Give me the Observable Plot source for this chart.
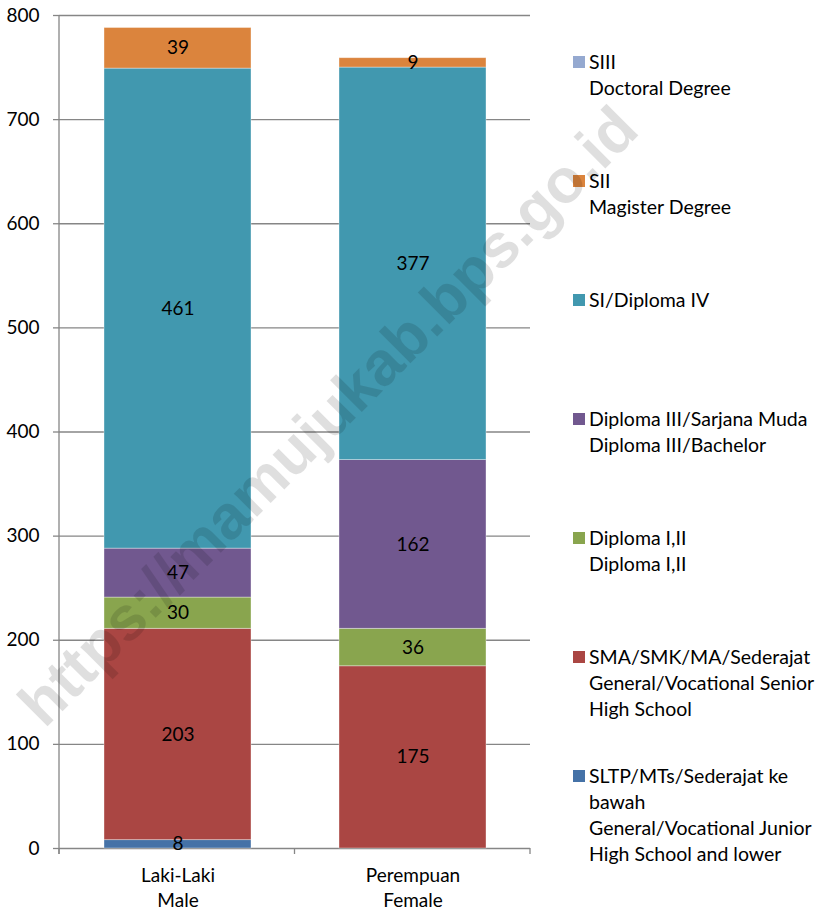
<!DOCTYPE html>
<html>
<head>
<meta charset="utf-8">
<script src="https://cdn.jsdelivr.net/npm/d3@7"></script>
<script src="https://cdn.jsdelivr.net/npm/@observablehq/plot@0.6"></script>
<style>
  html, body { margin: 0; padding: 0; background: #fff; }
  #wrap { position: relative; width: 823px; height: 912px; overflow: hidden; font-family: Lato, "Noto Sans", sans-serif; }
  #chart { position: absolute; left: 0; top: 0; }
  .leg { position: absolute; left: 589px; font-size: 19.5px; line-height: 26px; white-space: pre-line; color: #000; }
  .sw { position: absolute; left: 573px; width: 12px; height: 12px; }
  #wm { position: absolute; left: 328px; top: 416px; transform: translate(-50%, -50%) rotate(-45deg);
        font-family: "Liberation Sans", Arial, sans-serif; font-weight: 700; font-size: 62px; line-height: 1; white-space: nowrap;
        color: #000; opacity: 0.12; pointer-events: none; }
</style>
</head>
<body>
<div id="wrap">
  <div id="chart"></div>
  <div id="legend"></div>
  <div id="wm">https://mamujukab.bps.go.id</div>
</div>
<script>
// Categories (x axis)
const categories = ["Laki-Laki\nMale", "Perempuan\nFemale"];
// Series, bottom to top of the stack
const seriesKeys = ["SLTP", "SMA", "D12", "D3", "S1", "S2", "S3"];
const seriesLabels = [
  "SLTP/MTs/Sederajat ke\nbawah\nGeneral/Vocational Junior\nHigh School and lower",
  "SMA/SMK/MA/Sederajat\nGeneral/Vocational Senior\nHigh School",
  "Diploma I,II\nDiploma I,II",
  "Diploma III/Sarjana Muda\nDiploma III/Bachelor",
  "SI/Diploma IV",
  "SII\nMagister Degree",
  "SIII\nDoctoral Degree"
];
const seriesColors = ["#4572A7", "#AA4643", "#89A54E", "#71588F", "#4198AF", "#DB843D", "#95A9D0"];
// Values per series
const maleValues = [8, 203, 30, 47, 461, 39, 0];
const femaleValues = [0, 175, 36, 162, 377, 9, 0];
// Y ticks
const yTicks = [0, 100, 200, 300, 400, 500, 600, 700, 800];

const rows = [];
seriesKeys.forEach((s, i) => {
  rows.push({cat: categories[0], series: s, value: maleValues[i]});
  rows.push({cat: categories[1], series: s, value: femaleValues[i]});
});
const labelRows = rows.filter(d => d.value > 0);

const gray = "#868686";
const plot = Plot.plot({
  width: 545,
  height: 912,
  marginTop: 15,
  marginBottom: 64,
  marginLeft: 59,
  marginRight: 15,
  style: {fontFamily: "Lato, sans-serif", fontSize: "19px", color: "#000", background: "transparent", overflow: "visible"},
  x: {domain: categories, paddingInner: 0.376, paddingOuter: 0.188, label: null},
  y: {domain: [0, 800], label: null},
  color: {domain: seriesKeys, range: seriesColors},
  marks: [
    Plot.gridY(yTicks, {stroke: gray, strokeOpacity: 1, strokeWidth: 1.3}),
    Plot.axisY(yTicks, {tickSize: 6, tickPadding: 14, stroke: gray, strokeWidth: 1.3, label: null, fill: "#000"}),
    Plot.barY(rows, {x: "cat", y: "value", fill: "series", order: seriesKeys, stroke: "#fff", strokeOpacity: 0.45, strokeWidth: 0.8}),
    Plot.text(labelRows, Plot.stackY({x: "cat", y: "value", z: "series", order: seriesKeys, text: d => String(d.value), fill: "#000", fontSize: 19})),
    Plot.axisX({tickSize: 0, tickPadding: 16, lineHeight: 1.3, label: null, fill: "#000"})
  ]
});
document.getElementById("chart").appendChild(plot);

// Category boundary ticks and vertical axis line (Excel-style), from Plot's scales
const xs = plot.scale("x"), ys = plot.scale("y");
const [r0, r1] = xs.range;
const step = (r1 - r0) / categories.length;
const yBottom = ys.range[0], yTop = ys.range[1];
const g = d3.select(plot).append("g").attr("stroke", gray).attr("stroke-width", 1.3);
d3.range(categories.length + 1).forEach(i => {
  const x = r0 + i * step;
  g.append("line").attr("x1", x).attr("x2", x).attr("y1", yBottom).attr("y2", yBottom + 6);
});
g.append("line").attr("x1", r0).attr("x2", r0).attr("y1", yTop).attr("y2", yBottom + 6);

// Legend (top to bottom = top of stack first)
const legend = document.getElementById("legend");
const order = seriesKeys.map((k, i) => i).reverse();
order.forEach((si, j) => {
  const center = 62 + j * 119;
  const sw = document.createElement("div");
  sw.className = "sw";
  sw.style.top = (center - 6) + "px";
  sw.style.background = seriesColors[si];
  legend.appendChild(sw);
  const t = document.createElement("div");
  t.className = "leg";
  t.style.top = (center - 13) + "px";
  t.textContent = seriesLabels[si];
  legend.appendChild(t);
});
</script>
</body>
</html>
